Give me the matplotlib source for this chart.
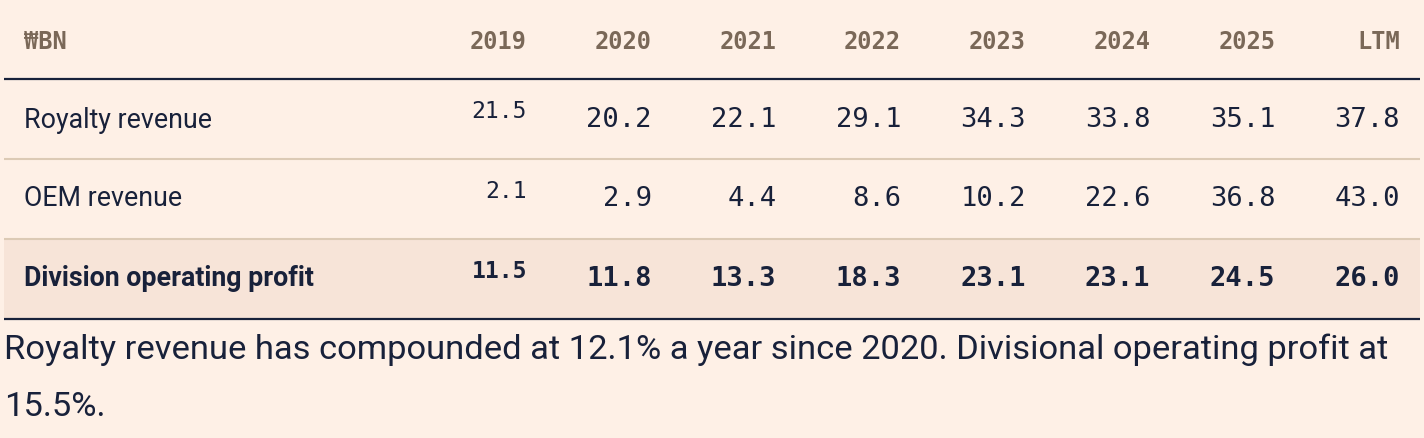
import matplotlib
matplotlib.use('Agg')
import matplotlib.pyplot as plt

# table contents
unit_label = '₩BN'
columns = ['2019', '2020', '2021', '2022', '2023', '2024', '2025', 'LTM']
row_labels = ['Royalty revenue', 'OEM revenue', 'Division operating profit']
royalty = [21.5, 20.2, 22.1, 29.1, 34.3, 33.8, 35.1, 37.8]
oem = [2.1, 2.9, 4.4, 8.6, 10.2, 22.6, 36.8, 43.0]
op_profit = [11.5, 11.8, 13.3, 18.3, 23.1, 23.1, 24.5, 26.0]
rows = [royalty, oem, op_profit]
caption = ('Royalty revenue has compounded at 12.1% a year since 2020. '
           'Divisional operating profit at\n15.5%.')

BG = '#fef0e6'
BOLD_BG = '#f7e4d8'
INK = '#18213a'
HEAD = '#7a6858'
RULE = '#dccab5'
MONO = ['DejaVu Sans Mono']
SANS = ['Roboto', 'DejaVu Sans']

W, H = 1424, 438
fig = plt.figure(figsize=(W / 100, H / 100), dpi=100, facecolor=BG)
ax = fig.add_axes([0, 0, 1, 1])
ax.set_xlim(0, W)
ax.set_ylim(H, 0)
ax.axis('off')

left, right = 4, 1420
col_right0, col_step = 527, 124.7
head_y = 42
row_top = [80, 159, 239]
row_h = 80

# header
ax.text(24, head_y, unit_label, ha='left', va='center', color=HEAD,
        fontsize=17, fontweight='bold', family=MONO)
for i, c in enumerate(columns):
    ax.text(col_right0 + i * col_step, head_y, c, ha='right', va='center',
            color=HEAD, fontsize=17, fontweight='bold', family=MONO)

# bold row background
ax.fill_between([left, right], row_top[2], row_top[2] + row_h, color=BOLD_BG, lw=0)

# rules
ax.plot([left, right], [79, 79], color=INK, lw=1.6, solid_capstyle='butt')
ax.plot([left, right], [159, 159], color=RULE, lw=1.5, solid_capstyle='butt')
ax.plot([left, right], [239, 239], color=RULE, lw=1.5, solid_capstyle='butt')
ax.plot([left, right], [318.5, 318.5], color=INK, lw=1.6, solid_capstyle='butt')

for r, (label, vals) in enumerate(zip(row_labels, rows)):
    yc = row_top[r] + 40
    bold = r == 2
    ax.text(24, yc, label, ha='left', va='center', color=INK, fontsize=19.3,
            fontweight='bold' if bold else 'normal', family=SANS)
    for i, v in enumerate(vals):
        first = i == 0
        ax.text(col_right0 + i * col_step, yc - (8 if first else 0), f'{v:.1f}',
                ha='right', va='center', color=INK,
                fontsize=16.6 if first else 19.5,
                fontweight='bold' if bold else 'normal', family=MONO)

ax.text(4, 378.5, caption, ha='left', va='center', color=INK, fontsize=24.8,
        family=SANS, linespacing=2.0)

fig.savefig('out.png', dpi=100, facecolor=BG)
